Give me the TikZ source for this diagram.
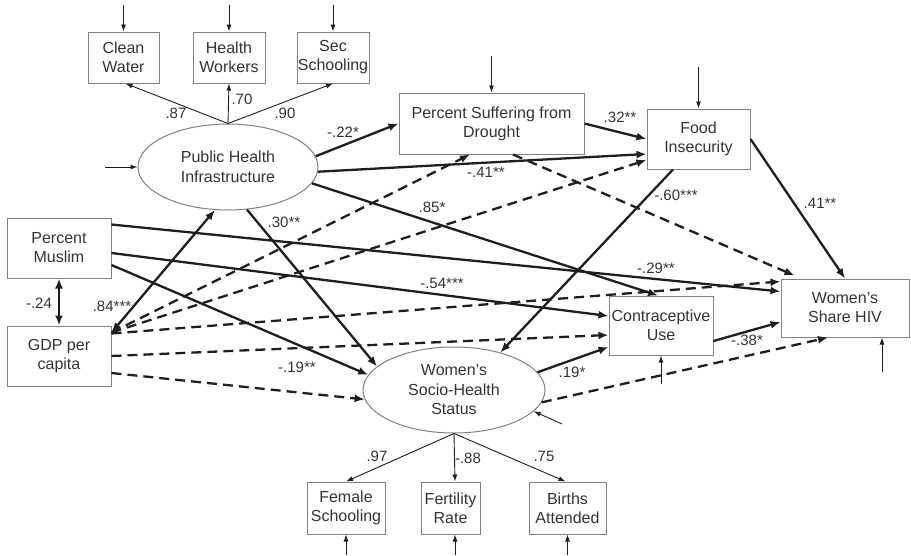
\documentclass[tikz,border=0pt]{standalone}
\usepackage{fontspec}
\setmainfont{Liberation Sans}
\usetikzlibrary{arrows.meta,shapes.geometric}
\definecolor{txt}{HTML}{333333}
\definecolor{bord}{HTML}{808080}
\definecolor{ln}{HTML}{1E1E1E}
\begin{document}
\begin{tikzpicture}[x=1pt,y=-1pt,
  box/.style={draw=bord, line width=1pt, inner sep=0pt, align=center, text=txt, font=\fontsize{16}{19}\selectfont},
  lat/.style={ellipse, draw=bord, line width=1pt, minimum width=180pt, minimum height=86pt, inner sep=0pt, align=center, text=txt, font=\fontsize{16}{19.5}\selectfont},
  sig/.style={draw=ln, line width=2.3pt, -{Latex[length=10pt,width=8pt]}},
  sigboth/.style={draw=ln, line width=2.3pt, {Latex[length=10pt,width=8pt]}-{Latex[length=10pt,width=8pt]}},
  nsig/.style={sig, dash pattern=on 10pt off 6pt},
  thinarr/.style={draw=ln, line width=0.9pt, -{Latex[length=7pt,width=5pt]}},
  lab/.style={text=txt, font=\fontsize{15}{17}\selectfont, inner sep=0pt}]
\useasboundingbox (0,0) rectangle (911,555);
% nodes
\node[box,minimum width=71pt,minimum height=51pt] (cw) at (123.5,57.5) {Clean\\Water};
\node[box,minimum width=72pt,minimum height=51pt] (hw) at (229,57.5) {Health\\Workers};
\node[box,minimum width=72pt,minimum height=51pt] (ss) at (333,57.5) {Sec\\Schooling};
\node[lat] (phi) at (228,167) {Public Health\\Infrastructure};
\node[box,minimum width=185pt,minimum height=61pt] (dr) at (491.5,123.5) {Percent Suffering from\\Drought};
\node[box,minimum width=103pt,minimum height=60pt] (fi) at (698.5,139) {Food\\Insecurity};
\node[box,minimum width=104pt,minimum height=60pt] (pm) at (59,248) {Percent\\Muslim};
\node[box,minimum width=104pt,minimum height=60pt] (gdp) at (59,356) {GDP per\\capita};
\node[box,minimum width=104pt,minimum height=59pt] (cu) at (661,325.5) {Contraceptive\\Use};
\node[box,minimum width=128pt,minimum height=58pt] (hiv) at (845,308) {Women’s\\Share HIV};
\node[lat,minimum width=182pt] (wsh) at (454,390) {Women’s\\Socio-Health\\Status};
\node[box,minimum width=78pt,minimum height=52pt] (fs) at (346,508) {Female\\Schooling};
\node[box,minimum width=59pt,minimum height=52pt] (fr) at (450.5,508) {Fertility\\Rate};
\node[box,minimum width=77pt,minimum height=52pt] (ba) at (567.5,508) {Births\\Attended};
% error term starts
\coordinate (ecw) at (123.5,5);
\coordinate (ehw) at (229,5);
\coordinate (ess) at (333,5);
\coordinate (edr) at (491.5,56);
\coordinate (efi) at (698.5,67);
\coordinate (ephi) at (105,167);
\coordinate (ecu) at (661,384);
\coordinate (ehiv) at (882,372);
\coordinate (ewsh) at (562,424);
\coordinate (efs) at (346,555);
\coordinate (efr) at (455,555);
\coordinate (eba) at (567.5,555);
\draw[thinarr] (ecw) -- (cw.north);
\draw[thinarr] (ehw) -- (hw.north);
\draw[thinarr] (ess) -- (ss.north);
\draw[thinarr] (edr) -- (dr.north);
\draw[thinarr] (efi) -- (fi.north);
\draw[thinarr] (ephi) -- (phi.west);
\draw[thinarr] (ecu) -- (cu.south);
\draw[thinarr] (ehiv) -- ([xshift=37pt]hiv.south);
\draw[thinarr] (ewsh) -- (wsh.-15);
\draw[thinarr] (efs) -- (fs.south);
\draw[thinarr] (efr) -- ([xshift=4.5pt]fr.south);
\draw[thinarr] (eba) -- (ba.south);
% measurement
\draw[thinarr] (phi.north) -- ([xshift=2pt]cw.south);
\draw[thinarr] (phi.north) -- (hw.south);
\draw[thinarr] (phi.north) -- (ss.south);
\draw[thinarr] (wsh.south) -- (fs.north);
\draw[thinarr] (wsh.south) -- ([xshift=4.5pt]fr.north);
\draw[thinarr] (wsh.south) -- ([xshift=-2pt]ba.north);
% structural significant
\draw[sig] (phi.7) -- (dr.west);
\draw[sig] (phi.-3) -- ([yshift=-15pt]fi.west);
\draw[sig] (dr.east) -- (fi.west);
\draw[sig] (phi.-11) -- ([xshift=-3pt]cu.north);
\draw[sig] (phi.-66) -- (wsh.163);
\draw[sigboth] ([yshift=-7pt]gdp.north east) -- (phi.-107);
\draw[sigboth] (pm.south) -- (gdp.north);
\draw[sig] ([yshift=-7pt]pm.north east) -- ([yshift=-13pt]hiv.north west);
\draw[sig] ([yshift=-5pt]pm.east) -- ([yshift=9.5pt]cu.west);
\draw[sig] ([yshift=-17pt]pm.east) -- (wsh.170);
\draw[sig] ([xshift=-25.5pt]fi.south) -- (wsh.39);
\draw[sig] (fi.east) -- (hiv.north);
\draw[sig] (wsh.12) -- ([yshift=-21.5pt]cu.west);
\draw[sig] ([yshift=-15.5pt]cu.east) -- ([yshift=-14pt]hiv.west);
% non-significant
\draw[nsig] ([yshift=-7pt]gdp.north east) -- ([xshift=-21.5pt]dr.south);
\draw[nsig] ([yshift=-7pt]gdp.north east) -- ([yshift=-21pt]fi.west);
\draw[nsig] ([yshift=-8pt]gdp.north east) -- ([yshift=-3pt]hiv.north west);
\draw[nsig] (gdp.east) -- ([yshift=-9.5pt]cu.west);
\draw[nsig] ([yshift=-17pt]gdp.east) -- (wsh.186);
\draw[nsig] ([xshift=21.5pt]dr.south) -- ([xshift=14pt,yshift=3pt]hiv.north west);
\draw[nsig] (wsh.-8) -- ([xshift=-17pt]hiv.south);
% labels
\node[lab] (l87) at (176,113) {.87};
\node[lab] (l70) at (242,99) {.70};
\node[lab] (l90) at (285,113) {.90};
\node[lab] (l22) at (343,132) {-.22*};
\node[lab] (l32) at (620,117) {.32**};
\node[lab] (l41a) at (486,172) {-.41**};
\node[lab] (l85) at (432,207) {.85*};
\node[lab] (l60) at (676,195) {-.60***};
\node[lab] (l41b) at (820,203) {.41**};
\node[lab] (l30) at (284,222) {.30**};
\node[lab] (l24) at (39,303) {-.24};
\node[lab] (l84) at (112,306) {.84***};
\node[lab] (l29) at (656,268) {-.29**};
\node[lab] (l54) at (442,283) {-.54***};
\node[lab] (l19a) at (297,367) {-.19**};
\node[lab] (l19b) at (572,372) {.19*};
\node[lab] (l38) at (747,340) {-.38*};
\node[lab] (l97) at (377,456) {.97};
\node[lab] (l88) at (468,458) {-.88};
\node[lab] (l75) at (544,456) {.75};
\end{tikzpicture}
\end{document}
